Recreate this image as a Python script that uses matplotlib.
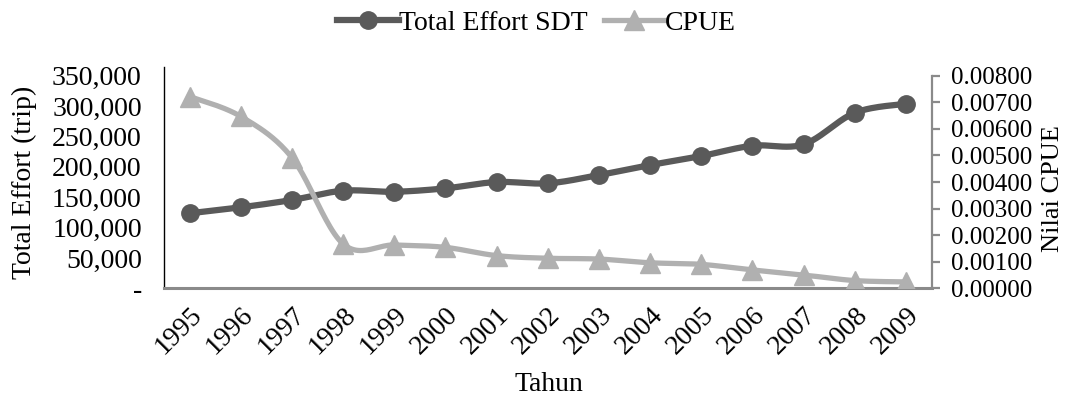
import numpy as np
import matplotlib.pyplot as plt
from matplotlib.lines import Line2D
from matplotlib.ticker import FuncFormatter

plt.rcParams['font.family'] = ['Liberation Serif', 'DejaVu Serif']

years = ['1995', '1996', '1997', '1998', '1999', '2000', '2001', '2002',
         '2003', '2004', '2005', '2006', '2007', '2008', '2009']
effort = [123500, 133300, 145400, 160700, 159000, 164600, 175000, 172900,
          186500, 203000, 217800, 234800, 237100, 289100, 304000]
cpue = [0.00722, 0.00647, 0.00492, 0.00167, 0.00163, 0.00154, 0.00123, 0.00113,
        0.00110, 0.00096, 0.00090, 0.00069, 0.00050, 0.00029, 0.00024]

col_eff = '#5a5a5a'
col_cpue = '#b0b0b0'
fs = 20


# excel-like smoothed line (bezier through the points)
def smooth(xs, ys, n=25):
    xs = np.asarray(xs, float)
    ys = np.asarray(ys, float)
    outx, outy = [], []
    m = len(xs)
    t = np.linspace(0, 1, n)
    for i in range(m - 1):
        p0 = i - 1 if i > 0 else i
        p3 = i + 2 if i + 2 < m else i + 1
        c1x = xs[i] + (xs[i + 1] - xs[p0]) / 6
        c1y = ys[i] + (ys[i + 1] - ys[p0]) / 6
        c2x = xs[i + 1] - (xs[p3] - xs[i]) / 6
        c2y = ys[i + 1] - (ys[p3] - ys[i]) / 6
        bx = (1-t)**3*xs[i] + 3*(1-t)**2*t*c1x + 3*(1-t)*t**2*c2x + t**3*xs[i+1]
        by = (1-t)**3*ys[i] + 3*(1-t)**2*t*c1y + 3*(1-t)*t**2*c2y + t**3*ys[i+1]
        outx.extend(bx)
        outy.extend(by)
    return outx, outy


fig = plt.figure(figsize=(10.67, 4.0), dpi=100)
ax = fig.add_axes([0.1537, 0.2793, 0.7194, 0.554])
ax2 = ax.twinx()

x = np.arange(len(years))
sx, sy = smooth(x, effort)
ax.plot(sx, sy, color=col_eff, lw=4.5, solid_capstyle='round', zorder=2)
ax.plot(x, effort, ls='none', marker='o', ms=12.5, color=col_eff, zorder=3)

sx2, sy2 = smooth(x, cpue)
ax2.plot(sx2, sy2, color=col_cpue, lw=3.8, solid_capstyle='round', zorder=2)
ax2.plot(x, cpue, ls='none', marker='^', ms=15, color=col_cpue, zorder=3)

ax.set_xlim(-0.5, len(years) - 0.5)
ax.set_ylim(0, 365000)
ax2.set_ylim(0, 0.008 * 365000 / 350000)
ax.set_yticks(np.arange(0, 350001, 50000))
ax2.set_yticks(np.arange(0, 0.00801, 0.001))
ax.yaxis.set_major_formatter(FuncFormatter(lambda v, p: '-' if v == 0 else f'{int(v):,}'))
ax2.yaxis.set_major_formatter(FuncFormatter(lambda v, p: f'{v:.5f}'))

ax.set_xticks(x)
ax.set_xticklabels(years, rotation=45, ha='right', rotation_mode='anchor')

for s in ['top', 'right']:
    ax.spines[s].set_visible(False)
for s in ['top', 'left', 'bottom']:
    ax2.spines[s].set_visible(False)
ax.spines['left'].set_color('black')
ax.spines['left'].set_linewidth(1.0)
ax.spines['bottom'].set_color('#8a8a8a')
ax.spines['bottom'].set_linewidth(2.2)
ax2.spines['right'].set_color('#8a8a8a')
ax2.spines['right'].set_linewidth(1.6)
ax2.spines['right'].set_bounds(0, 0.008)

ax.tick_params(axis='y', length=0, pad=16, labelsize=fs)
ax.tick_params(axis='x', length=0, pad=10, labelsize=fs)
ax2.tick_params(axis='y', length=6, width=1.6, color='#8a8a8a', pad=8, labelsize=18)

ax.set_ylabel('Total Effort (trip)', fontsize=fs)
ax.yaxis.set_label_coords(-0.165, 0.48)
ax2.set_ylabel('Nilai CPUE', fontsize=19)
ax2.yaxis.set_label_coords(1.144, 0.45)
fig.text(0.514, 0.038, 'Tahun', ha='center', va='center', fontsize=fs)

handles = [Line2D([], [], color=col_eff, lw=4.5, marker='o', ms=12.5),
           Line2D([], [], color=col_cpue, lw=3.8, marker='^', ms=15)]
fig.legend(handles, ['Total Effort SDT', 'CPUE'], loc='center',
           bbox_to_anchor=(0.503, 0.942), ncol=2, frameon=False, fontsize=fs,
           handlelength=2.2, handletextpad=0.0, columnspacing=0.6)

fig.savefig('out.png', dpi=100)
